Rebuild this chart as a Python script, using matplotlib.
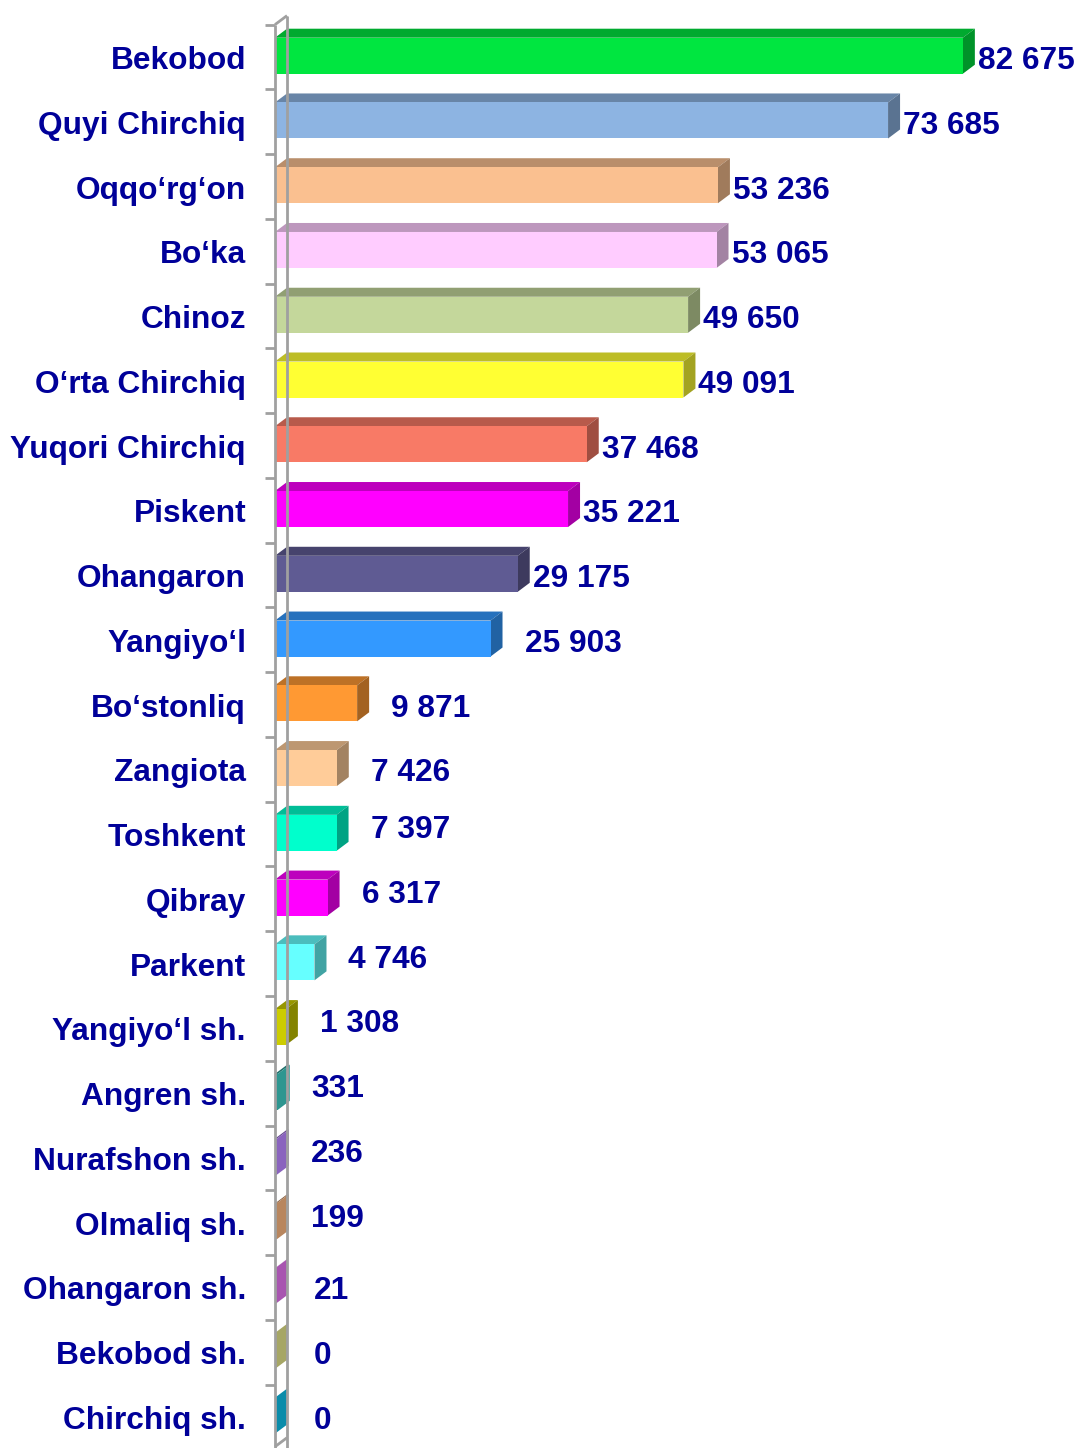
import matplotlib.pyplot as plt
import matplotlib.colors as mcolors
from matplotlib.patches import Polygon, Rectangle

# data
districts = [
    "Bekobod", "Quyi Chirchiq", "Oqqo\u2018rg\u2018on", "Bo\u2018ka", "Chinoz",
    "O\u2018rta Chirchiq", "Yuqori Chirchiq", "Piskent", "Ohangaron", "Yangiyo\u2018l",
    "Bo\u2018stonliq", "Zangiota", "Toshkent", "Qibray", "Parkent",
    "Yangiyo\u2018l sh.", "Angren sh.", "Nurafshon sh.", "Olmaliq sh.",
    "Ohangaron sh.", "Bekobod sh.", "Chirchiq sh.",
]
values = [
    82675, 73685, 53236, 53065, 49650, 49091, 37468, 35221, 29175, 25903,
    9871, 7426, 7397, 6317, 4746, 1308, 331, 236, 199, 21, 0, 0,
]

COLORS = [
    "#00E640", "#8DB4E2", "#FAC090", "#FFCCFF", "#C4D79B", "#FFFF33",
    "#F87A66", "#FF00FF", "#5F5B93", "#3399FF", "#FF9933", "#FFCC99",
    "#00FFCC", "#FF00FF", "#66FFFF", "#CCCC00", "#2E9690", "#8A64BE",
    "#B8865E", "#A855B0", "#A6A665", "#0A8CAA",
]
TEXT = "#000099"
WALL = "#A0A0A0"

W, H, DPI = 1077, 1448, 100
X0 = 275                 # pixel of value 0
PX_PER_UNIT = 0.00832
ROW0, ROW_PX = 57, 64.76
DX_PX, DY_PX = 12, 9
FRONT_H = 0.556          # bar front height in rows

plt.rcParams["font.family"] = ["Liberation Sans", "DejaVu Sans"]

fig = plt.figure(figsize=(W / DPI, H / DPI), dpi=DPI)
fig.patch.set_facecolor("white")

xmax = (W - X0) / PX_PER_UNIT
top_px = ROW0 - 0.5 * ROW_PX
ybot = (H - ROW0) / ROW_PX
ax = fig.add_axes([X0 / W, 0, 1 - X0 / W, (H - top_px) / H])
ax.set_xlim(0, xmax)
ax.set_ylim(ybot, -0.5)
ax.axis("off")
ax.set_facecolor("none")

dx = DX_PX / PX_PER_UNIT
dy = DY_PX / ROW_PX


def shade(c, f):
    r, g, b = mcolors.to_rgb(c)
    return (r * f, g * f, b * f)


# wall (left axis drawn as a thin 3-D panel)
wall_kw = dict(color=WALL, lw=2, clip_on=False, solid_capstyle="butt")
ax.plot([0, 0], [-0.5, ybot], **wall_kw)
ax.plot([dx, dx], [-0.5 - dy, ybot], **wall_kw)
ax.plot([0, dx], [-0.5, -0.5 - dy], **wall_kw)
ax.plot([0, dx], [ybot - 0.02, ybot - 0.02 - dy], **wall_kw)
tick_len = 10 / PX_PER_UNIT
for b in range(len(values) + 1):
    ax.plot([-tick_len, 0], [b - 0.5, b - 0.5], **wall_kw)

for i, (name, v, c) in enumerate(zip(districts, values, COLORS)):
    yc = i - 0.02
    y_top = yc - FRONT_H / 2
    y_bot = yc + FRONT_H / 2
    side_f = 0.64 if v >= 1000 else 1.0
    # top face
    ax.add_patch(Polygon([(0, y_top), (dx, y_top - dy), (v + dx, y_top - dy), (v, y_top)],
                         closed=True, facecolor=shade(c, 0.74), edgecolor="none", clip_on=False))
    # side face
    ax.add_patch(Polygon([(v, y_top), (v + dx, y_top - dy), (v + dx, y_bot - dy), (v, y_bot)],
                         closed=True, facecolor=shade(c, side_f), edgecolor="none", clip_on=False))
    # front face
    ax.add_patch(Rectangle((0, y_top), v, FRONT_H, facecolor=c, edgecolor="none", clip_on=False))

    # category label
    ax.annotate(name, xy=(0, i), xytext=(-29, -4), textcoords="offset pixels",
                ha="right", va="center", fontsize=22.8, fontweight="bold", color=TEXT,
                annotation_clip=False)
    # value label
    gap = 3 if v >= 28000 else 22
    if v < 100:
        gap = 27
    lift = 8 if 100 < v < 7400 else 0
    ax.annotate(f"{v:,}".replace(",", " "), xy=(v + dx, i), xytext=(gap, lift - 4),
                textcoords="offset pixels", ha="left", va="center",
                fontsize=22.8, fontweight="bold", color=TEXT, annotation_clip=False)

fig.savefig("out.png", dpi=DPI)
